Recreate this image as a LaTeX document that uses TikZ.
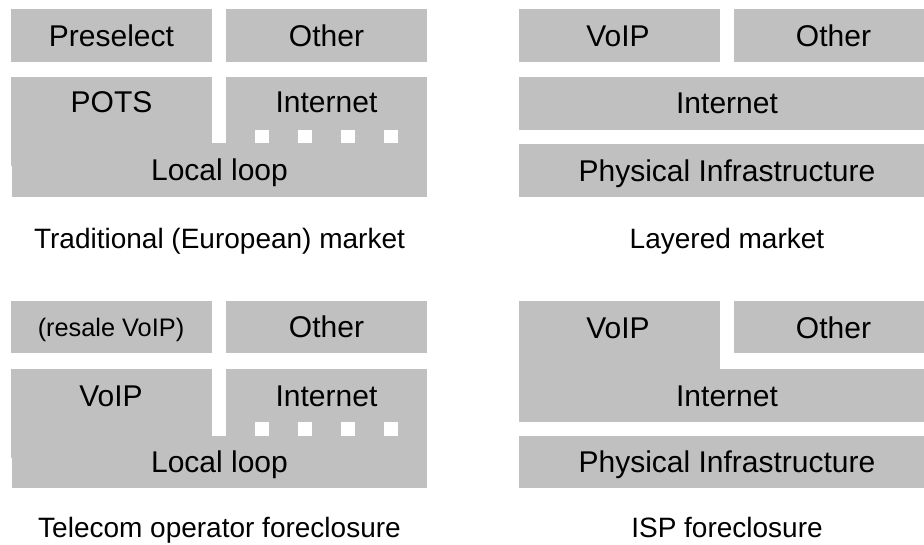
\documentclass[tikz,border=0pt]{standalone}
\usepackage{fontspec}
\setmainfont{Liberation Sans}
\definecolor{boxgray}{RGB}{192,192,192}
\tikzset{
  layer/.style={fill=boxgray},
  gap/.style={fill=white},
  lbl/.style={anchor=base,inner sep=0pt,font=\fontsize{22.5}{27}\selectfont},
  smalllbl/.style={anchor=base,inner sep=0pt,font=\fontsize{19}{23}\selectfont},
  caption/.style={anchor=base,inner sep=0pt,font=\fontsize{21}{25}\selectfont}
}

\begin{document}
\begin{tikzpicture}[x=0.75pt,y=-0.75pt]
\useasboundingbox (0,0) rectangle (924,544);
% traditional market
\begin{scope}
\fill[layer] (11,9) rectangle (212,62);
\fill[layer] (226,9) rectangle (427,62);
\fill[layer] (11,77) rectangle (212,166);
\fill[layer] (226,77) rectangle (427,143);
\fill[layer] (12.3,143) rectangle (427,197);
\foreach \x in {255,298,341,384} {
	\fill[gap] (\x,130) rectangle +(14,13);
}
\node[lbl] (pre) at (111.5,46) {Preselect};
\node[lbl] (oth1) at (326.5,46) {Other};
\node[lbl] (pots) at (111.5,112) {POTS};
\node[lbl] (inet1) at (326.5,112) {Internet};
\node[lbl] (loop1) at (219.5,180.5) {Local loop};
\node[caption] (cap1) at (219.5,248) {Traditional (European) market};
\end{scope}
% layered market
\begin{scope}
\fill[layer] (519,9) rectangle (720,62);
\fill[layer] (734,9) rectangle (923.5,62);
\fill[layer] (519,77) rectangle (923.5,129.5);
\fill[layer] (519,144) rectangle (923.5,197);
\node[lbl] (voip2) at (618,46) {VoIP};
\node[lbl] (oth2) at (833.5,46) {Other};
\node[lbl] (inet2) at (727,113) {Internet};
\node[lbl] (phys2) at (727,181) {Physical Infrastructure};
\node[caption] (cap2) at (727,248) {Layered market};
\end{scope}
% telecom operator foreclosure
\begin{scope}[shift={(0,292)}]
\fill[layer] (11,9) rectangle (212,61);
\fill[layer] (226,9) rectangle (427,61);
\fill[layer] (11,77) rectangle (212,166);
\fill[layer] (226,77) rectangle (427,144);
\fill[layer] (12.3,144) rectangle (427,196);
\foreach \x in {255,298,341,384} {
	\fill[gap] (\x,130) rectangle +(14,14);
}
\node[smalllbl] (resale) at (111,44) {(resale VoIP)};
\node[lbl] (oth3) at (326.5,45.5) {Other};
\node[lbl] (voip3) at (111,114) {VoIP};
\node[lbl] (inet3) at (326.5,114) {Internet};
\node[lbl] (loop3) at (219.5,180.5) {Local loop};
\node[caption] (cap3) at (219.5,245) {Telecom operator foreclosure};
\end{scope}
% ISP foreclosure
\begin{scope}[shift={(0,292)}]
\fill[layer] (519,9) rectangle (720,77);
\fill[layer] (734,9) rectangle (923.5,61);
\fill[layer] (519,77) rectangle (923.5,129.7);
\fill[layer] (519,144) rectangle (923.5,196);
\node[lbl] (voip4) at (618,46) {VoIP};
\node[lbl] (oth4) at (833.5,46) {Other};
\node[lbl] (inet4) at (727,114) {Internet};
\node[lbl] (phys4) at (727,180.5) {Physical Infrastructure};
\node[caption] (cap4) at (727,245) {ISP foreclosure};
\end{scope}
\end{tikzpicture}
\end{document}
